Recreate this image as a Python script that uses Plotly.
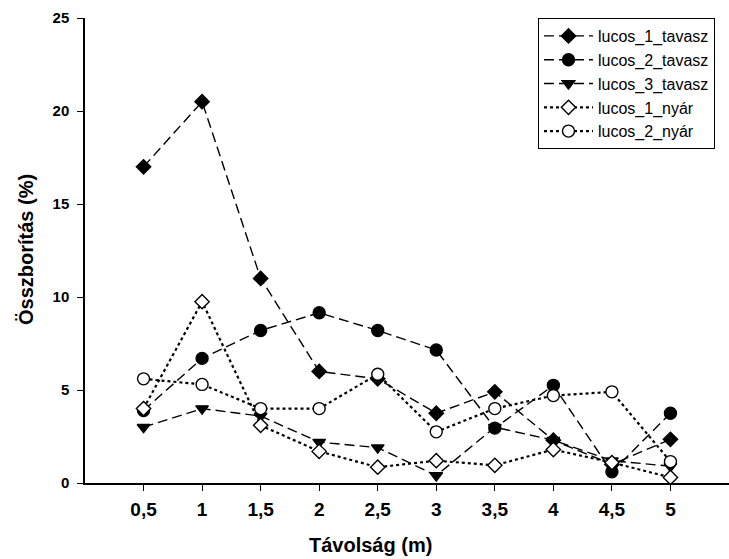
import plotly.graph_objects as go

x = [0.5, 1, 1.5, 2, 2.5, 3, 3.5, 4, 4.5, 5]
x_ticklabels = ["0,5", "1", "1,5", "2", "2,5", "3", "3,5", "4", "4,5", "5"]
y_ticks = [0, 5, 10, 15, 20, 25]

lucos_1_tavasz = [17.0, 20.5, 11.0, 6.0, 5.6, 3.75, 4.9, 2.3, 1.0, 2.35]
lucos_2_tavasz = [3.9, 6.7, 8.2, 9.15, 8.2, 7.15, 2.95, 5.25, 0.6, 3.75]
lucos_3_tavasz = [3.0, 4.0, 3.6, 2.2, 1.9, 0.4, 3.0, 2.3, 1.2, 0.9]
lucos_1_nyar = [4.0, 9.75, 3.1, 1.7, 0.85, 1.2, 0.95, 1.8, 1.1, 0.3]
lucos_2_nyar = [5.6, 5.3, 4.0, 4.0, 5.85, 2.75, 4.0, 4.7, 4.9, 1.15]

series = [
    ("lucos_1_tavasz", lucos_1_tavasz, "diamond", "black", "10px,5px", 11, 1.4),
    ("lucos_2_tavasz", lucos_2_tavasz, "circle", "black", "10px,5px", 12, 1.4),
    ("lucos_3_tavasz", lucos_3_tavasz, "triangle-down", "black", "10px,5px", 11, 1.4),
    ("lucos_1_nyár", lucos_1_nyar, "diamond", "white", "dot", 11, 2.2),
    ("lucos_2_nyár", lucos_2_nyar, "circle", "white", "dot", 12, 2.2),
]

fig = go.Figure()
for name, ys, sym, fill, dash, size, lw in series:
    fig.add_trace(go.Scatter(
        x=x, y=ys, name=name, mode="lines+markers",
        line=dict(color="black", width=lw, dash=dash),
        marker=dict(symbol=sym, size=size, color=fill,
                    line=dict(color="black", width=1.4)),
    ))

font = "Liberation Sans, Arial, sans-serif"
fig.update_layout(
    width=729, height=559,
    margin=dict(l=85, r=0, t=18, b=76),
    paper_bgcolor="white", plot_bgcolor="white",
    font=dict(family=font, color="black"),
    showlegend=True,
    legend=dict(x=0.7034, xanchor="left", y=1.0, yanchor="top",
                bordercolor="black", borderwidth=1, bgcolor="white",
                font=dict(size=16, family=font), tracegroupgap=0,
                itemwidth=49),
    xaxis=dict(range=[0, 5.5], tickvals=x, ticktext=x_ticklabels,
               showgrid=False, zeroline=False, showline=True,
               linecolor="black", linewidth=1.5, ticks="outside",
               ticklen=6, tickcolor="black", tickwidth=1.2,
               ticklabelstandoff=2,
               tickfont=dict(size=19, family=font, weight="bold")),
    yaxis=dict(range=[0, 25], tickvals=y_ticks,
               showgrid=False, zeroline=False, showline=True,
               linecolor="black", linewidth=1.5, ticks="outside",
               ticklen=6, tickcolor="black", tickwidth=1.2,
               ticklabelstandoff=5,
               tickfont=dict(size=15, family=font, weight="bold")),
    annotations=[
        dict(text="<b>Távolság (m)</b>", xref="paper", yref="paper",
             x=0.4426, y=-0.133, xanchor="center", yanchor="middle",
             showarrow=False, font=dict(size=20, family=font)),
        dict(text="<b>Összborítás (%)</b>", xref="paper", yref="paper",
             x=-0.0916, y=0.501, xanchor="center", yanchor="middle",
             textangle=-90, showarrow=False, font=dict(size=20, family=font)),
    ],
)

fig.write_html("out.html")
